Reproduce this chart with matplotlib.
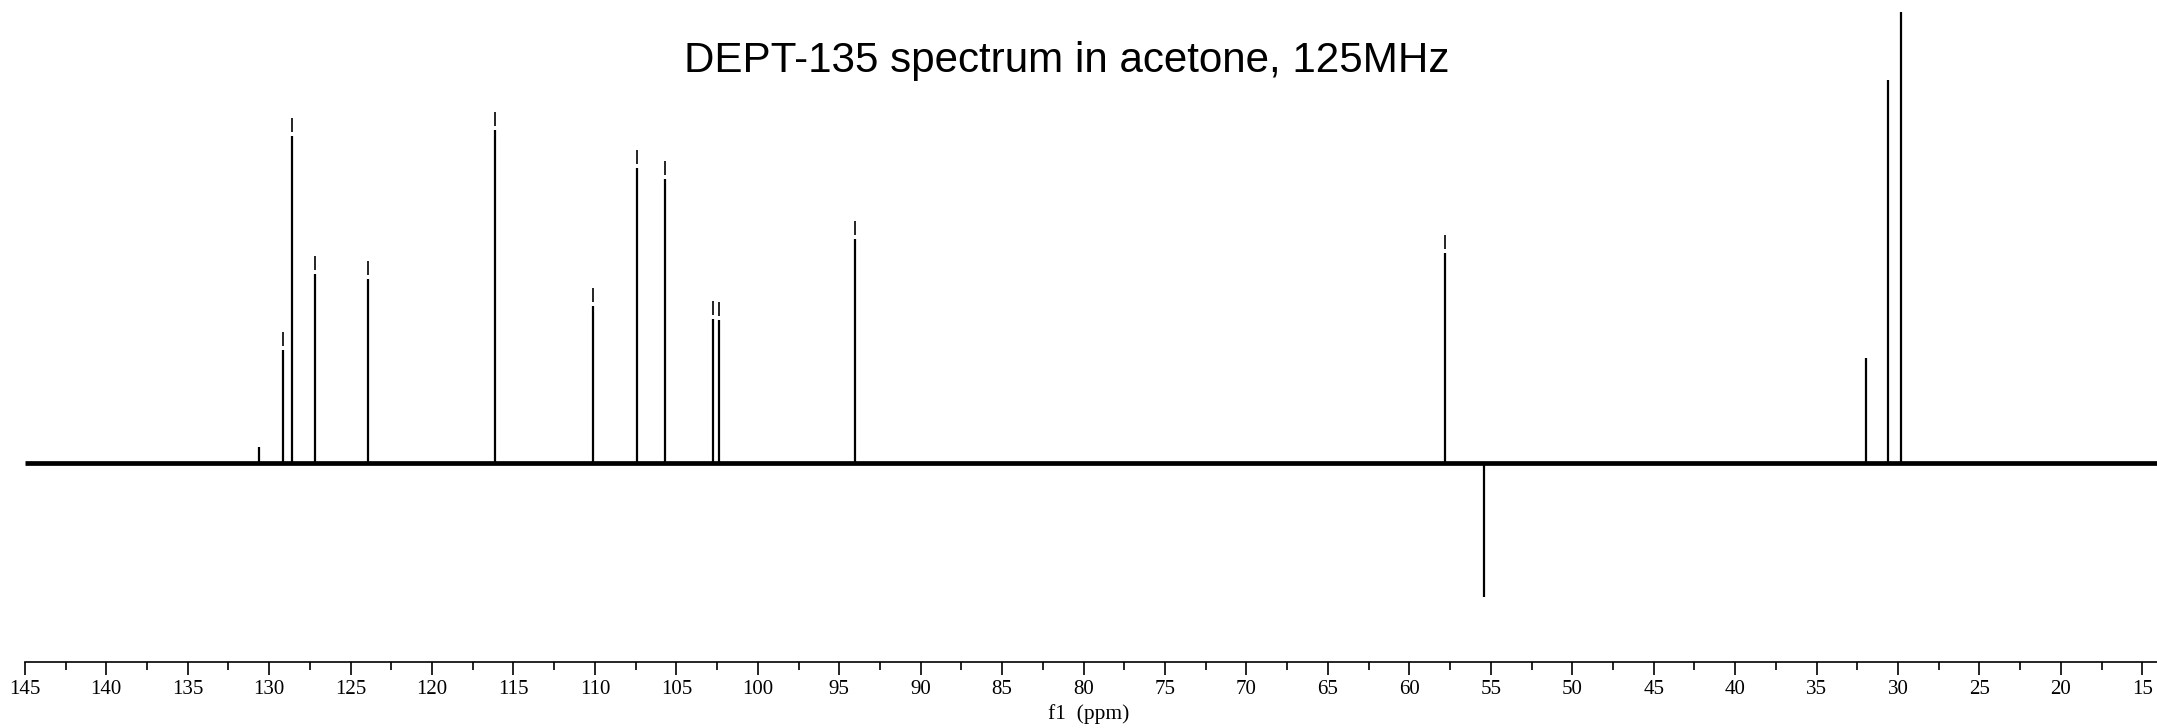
import numpy as np
import matplotlib
matplotlib.use("Agg")
from matplotlib import pyplot as plt
from matplotlib.ticker import MultipleLocator

# peak positions (ppm) and intensities (arbitrary units, baseline = 0)
peak_ppm = [130.64, 129.13, 128.59, 127.18, 123.91, 116.13, 110.14, 107.41,
            105.71, 102.72, 102.37, 94.04, 57.79, 55.41, 31.98, 30.61, 29.79]
peak_int = [16, 113, 327, 189, 184, 333, 157, 295,
            284, 144, 143, 224, 210, -134, 105, 383, 451]
# picked peaks (get the little marker above them)
picked = [129.13, 128.59, 127.18, 123.91, 116.13, 110.14, 107.41,
          105.71, 102.72, 102.37, 94.04, 57.79]

title = "DEPT-135 spectrum in acetone, 125MHz"

fig = plt.figure(figsize=(21.57, 7.28), dpi=100)
ax = fig.add_axes([24.8 / 2157, 66 / 728, 1 - 24.8 / 2157, 662 / 728])

# baseline
ax.plot([145, 14.1], [0, 0], color="black", lw=3.4, solid_capstyle="butt")
# peaks
ax.vlines(peak_ppm, 0, peak_int, color="black", lw=1.6)
# peak picking marks
h = dict(zip(peak_ppm, peak_int))
tops = np.array([h[p] for p in picked])
ax.vlines(picked, tops + 4, tops + 18, color="black", lw=1.2)

ax.set_xlim(145, 14.1)
ax.set_ylim(-199, 463)

for s in ["top", "left", "right"]:
    ax.spines[s].set_visible(False)
ax.spines["bottom"].set_linewidth(1.2)
ax.set_yticks([])
ax.xaxis.set_major_locator(MultipleLocator(5))
ax.xaxis.set_minor_locator(MultipleLocator(2.5))
ax.tick_params(axis="x", which="major", direction="out", length=9.4, width=1.2, pad=3.5)
ax.tick_params(axis="x", which="minor", direction="out", length=5.8, width=1.2)
for lab in ax.get_xticklabels():
    lab.set_fontfamily("Liberation Serif")
    lab.set_fontsize(15)

fig.text(1089 / 2157, 1 - 714 / 728, "f1  (ppm)", ha="center", va="center",
         family="Liberation Serif", fontsize=15.5)
fig.text(1066.7 / 2157, 1 - 72.3 / 728, title, ha="center", va="baseline",
         family="Liberation Sans", fontsize=30.3)

fig.savefig("out.png", dpi=100)
